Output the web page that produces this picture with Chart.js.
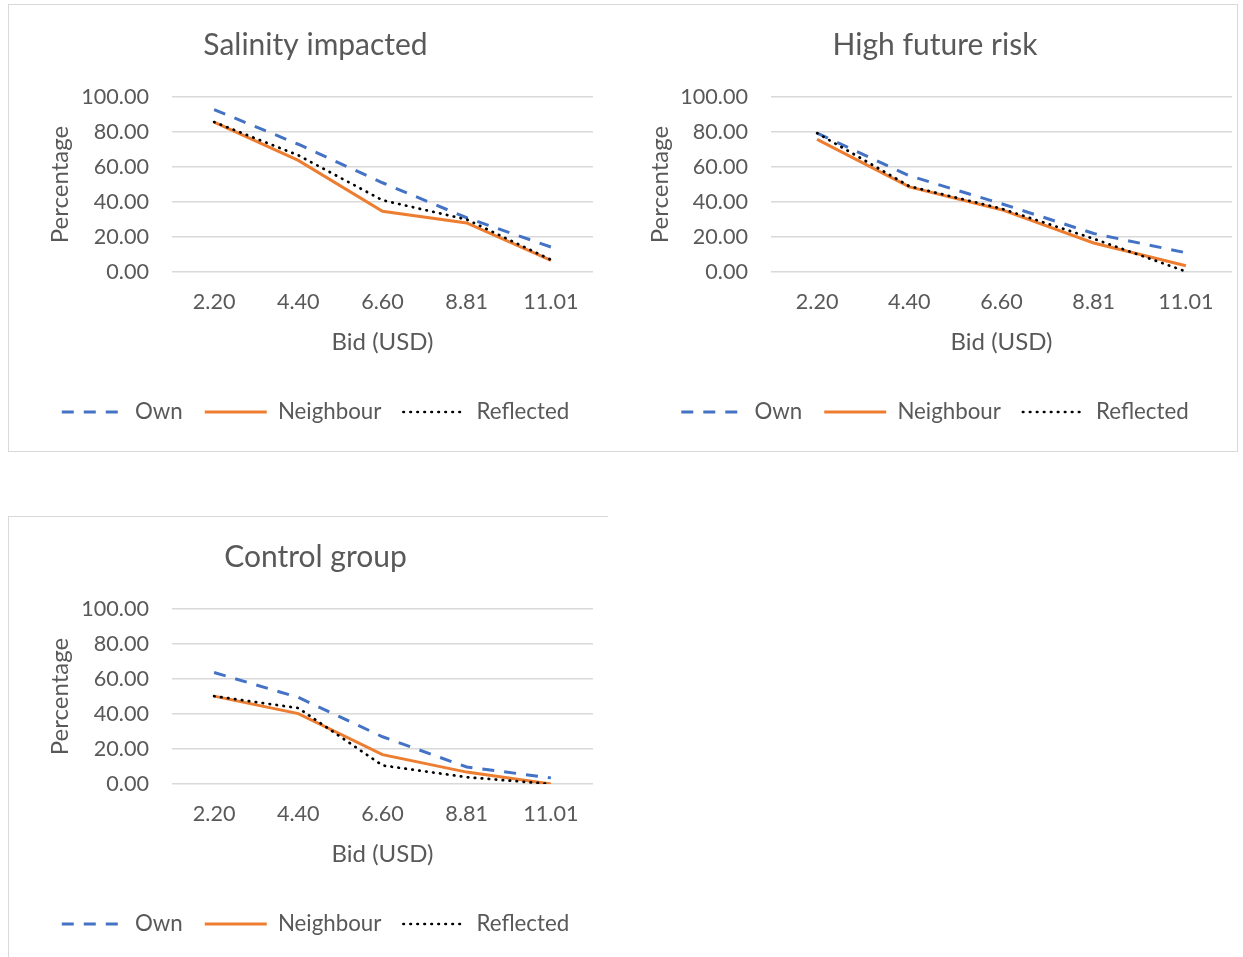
<!DOCTYPE html>
<html>
<head>
<meta charset="utf-8">
<script src="https://cdn.jsdelivr.net/npm/chart.js@4/dist/chart.umd.min.js"></script>
<style>
  html, body { margin: 0; padding: 0; background: #ffffff; }
  body { width: 1243px; height: 957px; position: relative; overflow: hidden; }
  .panel { position: absolute; border: 1px solid #d9d9d9; background: #fff; }
  .panel canvas { display: block; }
  #p1 { left: 8px; top: 4px; }
  #p2 { left: 608px; top: 4px; border-left: none; }
  #p3 { left: 8px; top: 516px; border-right: none; border-bottom: none; }
</style>
</head>
<body>
<div class="panel" id="p1"><canvas id="c1" width="599" height="446"></canvas></div>
<div class="panel" id="p2"><canvas id="c2" width="629" height="446"></canvas></div>
<div class="panel" id="p3"><canvas id="c3" width="599" height="446"></canvas></div>
<script>
// Bid levels shown on the horizontal axis
const bids = ['2.20', '4.40', '6.60', '8.81', '11.01'];
const seriesNames = ['Own', 'Neighbour', 'Reflected'];
const yTicks = [0, 20, 40, 60, 80, 100];

// Salinity impacted
const salinityOwn = [92.8, 73.0, 51.0, 31.0, 14.3];
const salinityNeighbour = [85.7, 63.8, 34.7, 28.0, 6.7];
const salinityReflected = [85.7, 66.7, 41.0, 30.0, 7.0];

// High future risk
const riskOwn = [79.4, 55.0, 39.0, 22.0, 11.0];
const riskNeighbour = [75.8, 48.6, 35.6, 16.6, 3.6];
const riskReflected = [79.4, 49.0, 36.2, 19.0, 0.3];

// Control group
const controlOwn = [63.7, 49.5, 27.0, 9.7, 3.5];
const controlNeighbour = [50.2, 40.2, 16.8, 6.8, 0.0];
const controlReflected = [50.2, 43.4, 10.6, 3.9, 0.0];

const FONT = 'Lato';
const TEXT = '#595959';
const GRID = '#d9d9d9';

// Legend entries drawn as short line samples carrying each series' dash pattern
function lineLegendLabels(chart) {
  const items = Chart.defaults.plugins.legend.labels.generateLabels(chart);
  items.forEach((item) => {
    const ds = chart.data.datasets[item.datasetIndex];
    item.lineDash = ds.borderDash || [];
    item.lineCap = ds.borderCapStyle || 'butt';
    item.lineWidth = ds.borderWidth;
    item.strokeStyle = ds.borderColor;
    item.fillStyle = ds.borderColor;
  });
  return items.sort((a, b) => a.datasetIndex - b.datasetIndex);
}

function makePanel(id, title, own, neighbour, reflected, padLeft, padRight) {
  const yAxisWidth = 163 - padLeft;
  return new Chart(document.getElementById(id), {
    type: 'line',
    data: {
      labels: bids,
      datasets: [
        {
          label: seriesNames[0], data: own, order: 3,
          borderColor: '#4472C4', backgroundColor: '#4472C4',
          borderWidth: 3, borderDash: [12, 10], borderCapStyle: 'butt'
        },
        {
          label: seriesNames[1], data: neighbour, order: 2,
          borderColor: '#ED7D31', backgroundColor: '#ED7D31',
          borderWidth: 3, borderCapStyle: 'butt'
        },
        {
          label: seriesNames[2], data: reflected, order: 1,
          borderColor: '#000000', backgroundColor: '#000000',
          borderWidth: 2.7, borderDash: [0.5, 6.5], borderCapStyle: 'round'
        }
      ]
    },
    options: {
      responsive: false,
      animation: false,
      devicePixelRatio: 1,
      events: [],
      layout: { padding: { left: padLeft, right: padRight, top: 0, bottom: 17.85 } },
      elements: {
        point: { radius: 0, hoverRadius: 0 },
        line: { tension: 0, fill: false }
      },
      plugins: {
        tooltip: { enabled: false },
        title: {
          display: true, text: title, color: TEXT,
          font: { family: FONT, size: 30, weight: 'normal' },
          padding: { top: 22, bottom: 34 }
        },
        legend: {
          position: 'bottom',
          labels: {
            color: TEXT,
            font: { family: FONT, size: 22.3 },
            usePointStyle: true,
            pointStyle: 'line',
            pointStyleWidth: 62,
            padding: 22,
            generateLabels: lineLegendLabels
          }
        }
      },
      scales: {
        x: {
          type: 'category',
          offset: true,
          grid: { display: false, drawTicks: false },
          border: { display: false },
          ticks: { color: TEXT, font: { family: FONT, size: 21.6 }, padding: 17.5, maxRotation: 0, autoSkip: false },
          title: {
            display: true, text: 'Bid (USD)', color: TEXT,
            font: { family: FONT, size: 24 },
            padding: { top: 0, bottom: 22.45 }
          },
          afterFit: (scale) => { scale.height = 106.85; }
        },
        y: {
          min: 0, max: 100,
          afterBuildTicks: (scale) => { scale.ticks = yTicks.map(v => ({ value: v })); },
          grid: { color: GRID, lineWidth: 1.5, drawTicks: false },
          border: { display: false },
          ticks: {
            color: TEXT, font: { family: FONT, size: 21.6 }, padding: 23, autoSkip: false,
            callback: (v) => Number(v).toFixed(2)
          },
          title: {
            display: true, text: 'Percentage', color: TEXT,
            font: { family: FONT, size: 24 },
            padding: { top: 7.6, bottom: 0 }
          },
          afterFit: (scale) => { scale.width = yAxisWidth; }
        }
      }
    }
  });
}

makePanel('c1', 'Salinity impacted', salinityOwn, salinityNeighbour, salinityReflected, 29, 15);
makePanel('c2', 'High future risk', riskOwn, riskNeighbour, riskReflected, 30, 5);
makePanel('c3', 'Control group', controlOwn, controlNeighbour, controlReflected, 29, 15);
</script>
</body>
</html>
